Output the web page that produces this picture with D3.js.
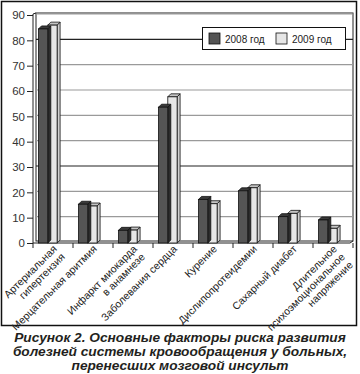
<!DOCTYPE html>
<html><head><meta charset="utf-8">
<script src="https://cdn.jsdelivr.net/npm/d3@7"></script>
<style>
html,body{margin:0;padding:0;background:#fff;}
svg{display:block;}
</style></head>
<body>
<script>
const categories = [
  ["Артериальная","гипертензия"],
  ["Мерцательная аритмия"],
  ["Инфаркт миокарда","в анамнезе"],
  ["Заболевания сердца"],
  ["Курение"],
  ["Дислипопротеидемии"],
  ["Сахарный диабет"],
  ["Длительное","психоэмоциональное","напряжение"]
];
const series2008 = [84.5, 15.3, 5.0, 53.6, 17.2, 20.6, 10.4, 9.1];
const series2009 = [86.0, 14.6, 5.1, 57.7, 15.5, 21.8, 11.7, 5.8];
const seriesNames = ["2008 год", "2009 год"];
const yTicks = [0,10,20,30,40,50,60,70,80,90];
const captionLines = [
  "Рисунок 2. Основные факторы риска развития",
  "болезней системы кровообращения у больных,",
  "перенесших мозговой инсульт"
];

const W = 360, H = 374;
const svg = d3.select("body").append("svg").attr("width", W).attr("height", H);

// outer frame
svg.append("rect").attr("x",1.5).attr("y",1.5).attr("width",355).attr("height",324)
  .attr("fill","none").attr("stroke","#111").attr("stroke-width",1.5);

const y = d3.scaleLinear().domain([0,90]).range([243,15]);
const x = d3.scaleBand().domain(d3.range(categories.length)).range([33,353]);
const dx = 3, dy = 3;

// back wall
const wallL = 36, wallR = 353, wallT = 13, wallB = 241;
svg.append("rect").attr("x",wallL).attr("y",wallT).attr("width",wallR-wallL).attr("height",wallB-wallT)
  .attr("fill","#fff").attr("stroke","#222").attr("stroke-width",1);
// gridlines
svg.append("g").selectAll("line").data(yTicks.filter(d=>d>0)).join("line")
  .attr("x1",wallL).attr("x2",wallR)
  .attr("y1",d=>y(d)-1).attr("y2",d=>y(d)-1)
  .attr("stroke",d=>(d===80||d===30)?"#222":"#9a9a9a").attr("stroke-width",1.2);
// left side wall / floor lines
svg.append("line").attr("x1",33).attr("x2",33).attr("y1",wallT+1).attr("y2",243).attr("stroke","#222");
svg.append("line").attr("x1",33).attr("x2",wallL).attr("y1",wallT+1).attr("y2",wallT).attr("stroke","#222");
svg.append("line").attr("x1",33).attr("x2",350).attr("y1",243).attr("y2",243).attr("stroke","#222");
svg.append("line").attr("x1",350).attr("x2",wallR).attr("y1",243).attr("y2",wallB).attr("stroke","#222");

// y axis ticks & labels
const yAxis = d3.axisLeft(y).tickValues(yTicks).tickSize(6).tickPadding(2);
const gy = svg.append("g").attr("transform","translate(33,0)").call(yAxis);
gy.select(".domain").remove();
gy.selectAll(".tick line").attr("stroke","#222");
gy.selectAll(".tick text").attr("font-family","Arial, 'Liberation Sans', sans-serif")
  .attr("font-size",11.5).attr("fill","#333");

// x ticks
const xt = svg.append("g");
xt.selectAll("line").data(d3.range(categories.length+1)).join("line")
  .attr("x1",i=>33+i*x.step()).attr("x2",i=>33+i*x.step())
  .attr("y1",243).attr("y2",248).attr("stroke","#222");

// bars
const barW = 9.3, off = 5.5;
const colors = [
  {front:"#555555", top:"#3a3a3a", side:"#2e2e2e"},
  {front:"#e6e6e6", top:"#c4c4c4", side:"#cfcfcf"}
];
function bar3d(g, x0, v, c){
  const yt = y(v), yb = y(0);
  g.append("path").attr("d",`M${x0+barW},${yt}L${x0+barW+dx},${yt-dy}L${x0+barW+dx},${yb-dy}L${x0+barW},${yb}Z`)
    .attr("fill",c.side).attr("stroke","#111").attr("stroke-width",0.8);
  g.append("path").attr("d",`M${x0},${yt}L${x0+dx},${yt-dy}L${x0+barW+dx},${yt-dy}L${x0+barW},${yt}Z`)
    .attr("fill",c.top).attr("stroke","#111").attr("stroke-width",0.8);
  g.append("rect").attr("x",x0).attr("y",yt).attr("width",barW).attr("height",yb-yt)
    .attr("fill",c.front).attr("stroke","#111").attr("stroke-width",0.8);
}
const gb = svg.append("g");
categories.forEach((c,i)=>{
  const x0 = x(i)+off;
  bar3d(gb, x0+barW, series2009[i], colors[1]);
  bar3d(gb, x0, series2008[i], colors[0]);
});

// x labels
const gl = svg.append("g").attr("font-family","Arial, 'Liberation Sans', sans-serif")
  .attr("font-size",10.5).attr("fill","#222");
categories.forEach((lines,i)=>{
  const cx = x(i)+x.bandwidth()/2 - 1;
  const t = gl.append("text").attr("text-anchor","end")
    .attr("transform",`translate(${cx},244) rotate(-45)`);
  lines.forEach((ln,j)=>{
    t.append("tspan").attr("x",0).attr("dy", j===0 ? "0.75em" : "1.08em").text(ln);
  });
});

// legend
const lg = svg.append("g");
lg.append("rect").attr("x",202.5).attr("y",27.5).attr("width",143).attr("height",22)
  .attr("fill","#fff").attr("stroke","#111").attr("stroke-width",1);
seriesNames.forEach((s,i)=>{
  const lx = 209 + i*67;
  lg.append("rect").attr("x",lx).attr("y",33).attr("width",11).attr("height",11)
    .attr("fill",colors[i].front).attr("stroke","#111").attr("stroke-width",0.8);
  lg.append("text").attr("x",lx+16).attr("y",42.5).text(s)
    .attr("font-family","Arial, 'Liberation Sans', sans-serif").attr("font-size",10).attr("fill","#222");
});

// caption
svg.append("g").selectAll("text").data(captionLines).join("text")
  .attr("x",W/2).attr("y",(d,i)=>342+i*14).attr("text-anchor","middle")
  .attr("font-family","Arial, 'Liberation Sans', sans-serif").attr("font-size",13.7)
  .attr("font-weight","bold").attr("font-style","italic").attr("fill","#231f20")
  .text(d=>d);
</script>
</body></html>
